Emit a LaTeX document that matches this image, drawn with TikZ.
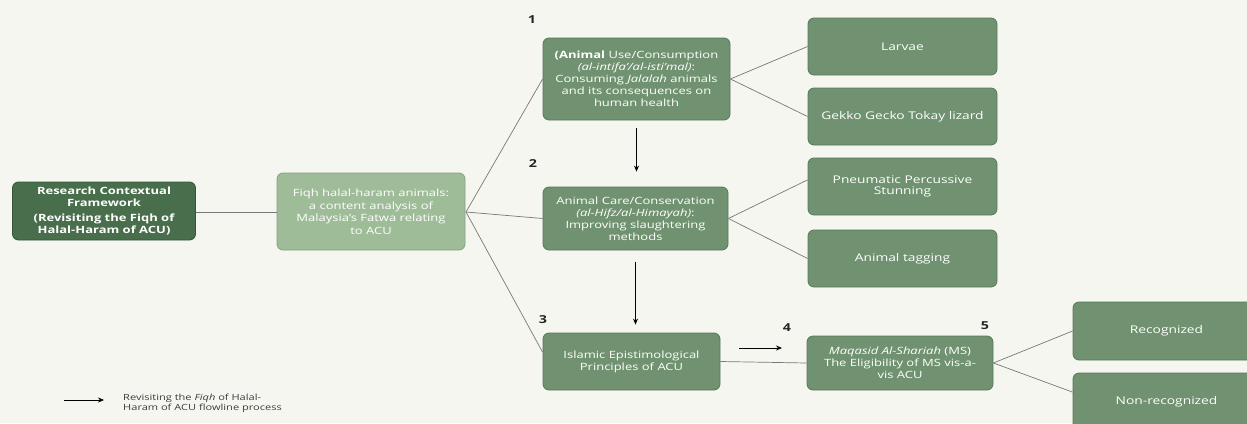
\documentclass[tikz,border=0pt]{standalone}
\usepackage{fontspec}
\setmainfont[FakeStretch=1.3]{Open Sans}
\usetikzlibrary{arrows.meta}
\definecolor{bg}{RGB}{246,246,241}
\definecolor{gmid}{RGB}{112,146,112}
\definecolor{gmidb}{RGB}{88,120,88}
\definecolor{gdark}{RGB}{72,110,76}
\definecolor{gdarkb}{RGB}{52,86,56}
\definecolor{glight}{RGB}{158,188,152}
\definecolor{glightb}{RGB}{132,162,128}
\definecolor{conn}{RGB}{120,120,118}
\definecolor{legtext}{RGB}{60,60,60}
\tikzset{
  gbox/.style={draw=gmidb, fill=gmid, line width=0.8pt, rounded corners=6pt,
    text=white, align=center, inner sep=0pt,
    font=\fontsize{10}{12}\selectfont},
  rbox/.style={gbox, font=\fontsize{10.6}{11.5}\selectfont},
  darkbox/.style={gbox, draw=gdarkb, fill=gdark},
  lightbox/.style={gbox, draw=glightb, fill=glight, font=\fontsize{10}{12.5}\selectfont},
  conline/.style={draw=conn, line width=0.7pt},
  arr/.style={draw=black, line width=0.8pt, -{Stealth[length=6pt,width=5pt]}},
  numlabel/.style={font=\bfseries\fontsize{11}{12}\selectfont, text=black!85, inner sep=0pt},
}
\begin{document}
\begin{tikzpicture}[x=1pt,y=-1pt]
\useasboundingbox (0,0) rectangle (1247,423);
\clip (0,0) rectangle (1247,423);
\fill[bg] (0,0) rectangle (1247,423);

% main nodes
\node[darkbox, minimum width=183pt, minimum height=58pt] (b1) at (104,211)
  {\bfseries Research Contextual\\ \bfseries Framework\\[3pt] \bfseries (Revisiting the Fiqh of\\ \bfseries Halal-Haram of ACU)};
\node[lightbox, minimum width=188pt, minimum height=77pt] (b2) at (371,211.5)
  {Fiqh halal-haram animals:\\ a content analysis of\\ Malaysia's Fatwa relating\\ to ACU};
\node[gbox, minimum width=187pt, minimum height=82pt] (b3) at (636.5,79)
  {\textbf{(Animal} Use/Consumption\\ \textit{(al-intifa'/al-isti'mal)}:\\ Consuming \textit{Jalalah} animals\\ and its consequences on\\ human health};
\node[gbox, minimum width=185pt, minimum height=63pt] (b4) at (635.5,218.5)
  {Animal Care/Conservation\\ \textit{(al-Hifz/al-Himayah)}:\\ Improving slaughtering\\ methods};
\node[gbox, minimum width=177pt, minimum height=57pt] (b5) at (631.5,361.5)
  {Islamic Epistimological\\ Principles of ACU};
\node[gbox, minimum width=186pt, minimum height=54pt] (b6) at (900,363)
  {\textit{Maqasid Al-Shariah} (MS)\\ The Eligibility of MS vis-a-\\ vis ACU};

% right nodes
\node[rbox, minimum width=189pt, minimum height=57pt] (r1) at (902.5,46.5) {Larvae};
\node[rbox, minimum width=189pt, minimum height=57pt] (r2) at (902.5,116.5) {Gekko Gecko Tokay lizard};
\node[rbox, minimum width=189pt, minimum height=57pt] (r3) at (902.5,186.5) {Pneumatic Percussive\\ Stunning};
\node[rbox, minimum width=189pt, minimum height=57pt] (r4) at (902.5,258.5) {Animal tagging};
\node[rbox, minimum width=187pt, minimum height=58pt] (r5) at (1166.5,331) {Recognized};
\node[rbox, minimum width=187pt, minimum height=58pt] (r6) at (1166.5,402) {Non-recognized};

% numbers
\node[numlabel] (n1) at (532,20) {1};
\node[numlabel] (n2) at (533,164) {2};
\node[numlabel] (n3) at (543,320) {3};
\node[numlabel] (n4) at (787,328) {4};
\node[numlabel] (n5) at (985,326) {5};

% connectors
\coordinate (j2) at (466,212);
\draw[conline] (b1.east |- j2) -- (b2.west |- j2);
\draw[conline] (j2) -- (b3.west);
\draw[conline] (j2) -- (b4.west);
\draw[conline] (j2) -- (b5.174);
\draw[conline] (b3.east) -- (r1.west);
\draw[conline] (b3.east) -- (r2.west);
\draw[conline] (b4.east) -- (r3.176);
\draw[conline] (b4.east) -- (r4.west);
\draw[conline] (b6.east) -- (r5.west);
\draw[conline] (b6.east) -- (r6.174);
\draw[conline] (b5.east) -- (b6.west);

% arrows
\draw[arr, shorten <=8pt, shorten >=15pt] (b3.south) -- (b3.south |- b4.north);
\draw[arr, shorten <=12pt, shorten >=8pt] (b4.south) -- (b4.south |- b5.north);
\coordinate (a4s) at (739,348);
\coordinate (a4e) at (782,348);
\draw[arr] (a4s) -- (a4e);

% legend
\coordinate (ls) at (64,400);
\coordinate (le) at (104,400);
\draw[arr, line width=0.6pt] (ls) -- (le);
\node[anchor=west, align=left, text=legtext, inner sep=0pt,
  font=\fontsize{8.5}{10}\selectfont] (leg) at (123,403)
  {Revisiting the \textit{Fiqh} of Halal-\\ Haram of ACU flowline process};
\end{tikzpicture}
\end{document}
